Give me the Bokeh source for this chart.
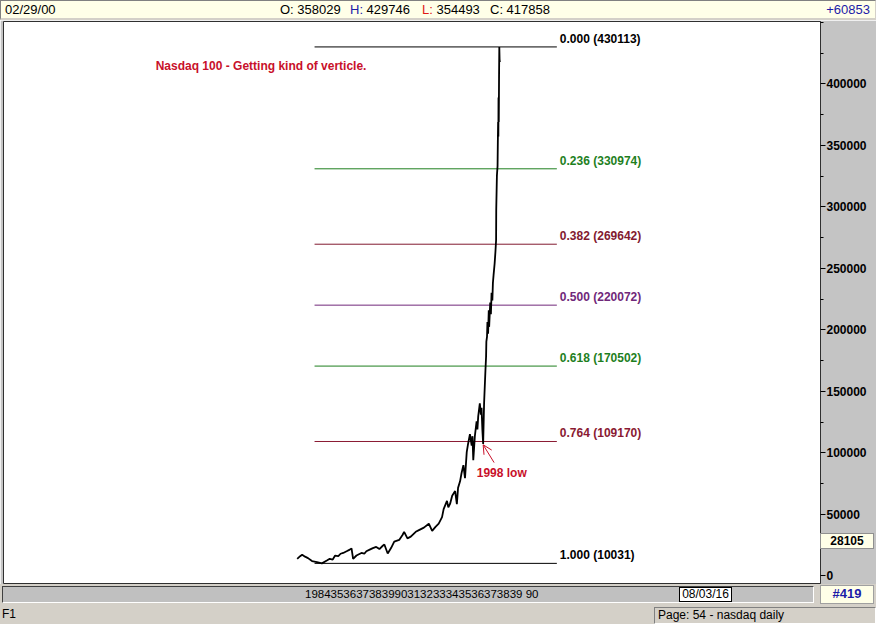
from bokeh.plotting import figure
from bokeh.models import Range1d, FixedTicker, BasicTickFormatter, Label, Arrow, OpenHead, Div, ColumnDataSource
from bokeh.layouts import column
from bokeh.core.properties import value
from bokeh.embed import file_html
from bokeh.resources import INLINE

# ---------------- data ----------------
years = [1985.00, 1985.22, 1985.37, 1985.59, 1985.81, 1986.11, 1986.48, 1986.85, 1987.22, 1987.44,
         1987.66, 1987.83, 1988.08, 1988.25, 1988.45, 1988.70, 1988.94, 1989.07, 1989.19, 1989.44,
         1989.81, 1990.03, 1990.18, 1990.47, 1990.67, 1990.92, 1991.16, 1991.41, 1991.53, 1991.78,
         1992.03, 1992.27, 1992.64, 1992.89, 1993.01, 1993.26, 1993.51, 1993.88, 1994.12, 1994.49,
         1994.86, 1995.11, 1995.36, 1995.60, 1995.85, 1995.97, 1996.22, 1996.32, 1996.46, 1996.61,
         1996.83, 1996.96, 1997.05, 1997.20, 1997.31, 1997.45, 1997.57, 1997.70, 1997.80, 1997.94,
         1998.07, 1998.13, 1998.19, 1998.31, 1998.44, 1998.50, 1998.56, 1998.68, 1998.76, 1998.81,
         1998.87, 1998.93, 1999.00, 1999.10, 1999.15, 1999.17, 1999.22, 1999.25, 1999.30, 1999.35,
         1999.38, 1999.46, 1999.51, 1999.56, 1999.62, 1999.66, 1999.71, 1999.79, 1999.85, 1999.90,
         1999.91, 1999.96, 2000.01, 2000.03, 2000.05, 2000.07, 2000.08, 2000.10, 2000.12, 2000.14,
         2000.16, 2000.18]
prices = [13730, 15873, 17063, 15476, 14286, 11905, 11111, 10031, 12302, 13730,
          13095, 16270, 15873, 17857, 18492, 19841, 21190, 22222, 13730, 16429,
          18492, 17857, 19841, 21429, 22460, 23413, 21667, 24365, 25397, 18016,
          22460, 27778, 29127, 33095, 35714, 30397, 31746, 35714, 37063, 39127,
          42302, 36508, 39683, 42302, 47619, 54206, 60873, 55556, 58730, 65079,
          68810, 58175, 71429, 76746, 83333, 89921, 79365, 100556, 107143, 115079,
          105794, 113492, 93889, 113730, 125635, 119048, 129603, 140238, 130952, 136508,
          119048, 107143, 140238, 166667, 178571, 190476, 194444, 206349, 196825, 215873,
          202381, 222222, 212698, 230159, 223810, 238095, 244444, 253968, 263492, 273016,
          297619, 325397, 333333, 353175, 369048, 357143, 388889, 369048, 404762, 430113,
          420000, 417858]

fib_levels = [0.000, 0.236, 0.382, 0.500, 0.618, 0.764, 1.000]
fib_values = [430113, 330974, 269642, 220072, 170502, 109170, 10031]
fib_colors = ["#000000", "#1E7F1E", "#821A30", "#70287A", "#1E7F1E", "#8A1A32", "#000000"]
fib_start = 1986.3
fib_end = 2004.45

y_ticks = [0, 50000, 100000, 150000, 200000, 250000, 300000, 350000, 400000]
y_minor = [25000, 75000, 125000, 175000, 225000, 275000, 325000, 375000, 425000, 450000]

date_str = "02/29/00"
ohlc_names = ["O:", "H:", "L:", "C:"]
ohlc_values = [358029, 429746, 354493, 417858]
change_str = "+60853"
cursor_value = 28105
scroll_years = "1984353637383990313233343536373839 90"
scroll_date = "08/03/16"
bar_count = "#419"
page_str = "Page: 54 - nasdaq daily"
note = "Nasdaq 100 - Getting kind of verticle."
low_note = "1998 low"
low_point = (1998.93, 106500)

FONT = "Liberation Sans"
HFONT = "'Liberation Sans',Arial,sans-serif"
W = 876
H_MAIN = 564
Y0, Y1 = -6350, 450800
RED = "#C8102A"
BLUE = "#1C1CA8"
CREAM = "#FFFFE8"

# ---------------- top bar ----------------
ohlc_lefts = [279, 349, 421, 489]
ohlc_name_colors = ["#000000", BLUE, "#E01818", "#000000"]
spans = [f'<span style="position:absolute;left:4px;top:1px">{date_str}</span>']
for nm, v, lx, c in zip(ohlc_names, ohlc_values, ohlc_lefts, ohlc_name_colors):
    spans.append(f'<span style="position:absolute;left:{lx}px;top:1px"><span style="color:{c}">{nm}</span> {v}</span>')
spans.append(f'<span style="position:absolute;right:5px;top:1px;color:{BLUE}">{change_str}</span>')
top_html = (f'<div style="position:relative;box-sizing:border-box;width:{W}px;height:20px;background:{CREAM};'
            f'border-top:1px solid #808080;border-left:1px solid #808080;border-bottom:2px solid #D4D0C8;'
            f'border-right:1px solid #D4D0C8;font:13px {HFONT};color:#000;line-height:16px;white-space:nowrap">'
            + "".join(spans) + '</div>')
top = Div(text=top_html, width=W, height=20, margin=(0, 0, 0, 0))

# ---------------- main chart ----------------
p = figure(width=W, height=H_MAIN, x_range=Range1d(1963.0, 2024.2), y_range=Range1d(Y0, Y1),
           x_axis_location=None, y_axis_location="right", output_backend="svg", toolbar_location=None,
           min_border_left=3, min_border_right=56, min_border_top=1, min_border_bottom=1,
           background_fill_color="white", border_fill_color="#C4C4C4", outline_line_color="#303030")
p.grid.visible = False
ax = p.yaxis[0]
ax.ticker = FixedTicker(ticks=y_ticks, minor_ticks=y_minor)
ax.formatter = BasicTickFormatter(use_scientific=False)
ax.major_label_text_font = FONT
ax.major_label_text_font_style = "bold"
ax.major_label_text_font_size = "12px"
ax.major_label_text_color = "#000000"
ax.major_label_standoff = 1
ax.major_tick_out = 5
ax.major_tick_in = 0
ax.minor_tick_out = 3
ax.minor_tick_in = 0
ax.major_tick_line_color = "#000000"
ax.minor_tick_line_color = "#000000"
ax.axis_line_color = "#303030"
ax.axis_line_dash = "1 2"

fsrc = ColumnDataSource(dict(x0=[fib_start] * len(fib_values), x1=[fib_end] * len(fib_values),
                             y=fib_values, c=fib_colors,
                             t=[f"{l:.3f} ({v})" for l, v in zip(fib_levels, fib_values)]))
p.segment(x0="x0", y0="y", x1="x1", y1="y", color="c", line_width=1, source=fsrc)
p.text(x="x1", y="y", text="t", text_color="c", x_offset=3, y_offset=-1, text_baseline="bottom",
       text_font=value(FONT), text_font_style="bold", text_font_size="12px", source=fsrc)

p.line(years, prices, color="#000000", line_width=1.8)

p.add_layout(Label(x=1974.4, y=415000, text=note, text_color=RED, text_font=FONT,
                   text_font_style="bold", text_font_size="12px", text_baseline="middle"))
p.add_layout(Label(x=1998.45, y=83500, text=low_note, text_color=RED, text_font=FONT,
                   text_font_style="bold", text_font_size="12px", text_baseline="middle"))
p.add_layout(Arrow(end=OpenHead(size=9, line_color=RED, line_width=1), x_start=1999.75, y_start=92000,
                   x_end=low_point[0], y_end=low_point[1], line_color=RED, line_width=1))

# ---------------- bottom rows ----------------
frame_h = H_MAIN - 2
cursor_px = 1 + (cursor_value - Y0) / (Y1 - Y0) * frame_h   # px above the figure's bottom edge
box_top = -round(cursor_px + 8)
scroll_html = (f'<div style="position:relative;width:{W}px;height:22px;background:#D4D0C8;font:11.5px {HFONT};'
               f'white-space:nowrap;line-height:14px">'
               f'<div style="position:absolute;left:820px;top:{box_top}px;width:54px;height:16px;box-sizing:border-box;'
               f'background:{CREAM};border:1px solid #909090;text-align:center;font:bold 12px {HFONT};line-height:14px">'
               f'{cursor_value}</div>'
               f'<div style="position:absolute;left:2px;top:2px;width:812px;height:17px;box-sizing:border-box;'
               f'background:#C0C0C0;border:1px solid;border-color:#404040 #FFFFFF #FFFFFF #404040">'
               f'<span style="position:absolute;left:302px;top:0px">{scroll_years}</span>'
               f'<span style="position:absolute;left:676px;top:0px;width:53px;height:15px;box-sizing:border-box;'
               f'background:#FFFFFF;border:1px solid #000;line-height:13px;text-align:center;font-size:12px">{scroll_date}</span>'
               f'</div>'
               f'<div style="position:absolute;left:820px;top:1px;width:54px;height:19px;box-sizing:border-box;'
               f'background:{CREAM};border:1px solid #A0A0A0;color:{BLUE};text-align:center;line-height:17px;'
               f'font:bold 13px {HFONT}">{bar_count}</div></div>')
scroll = Div(text=scroll_html, width=W, height=22, margin=(0, 0, 0, 0))

status_html = (f'<div style="position:relative;width:{W}px;height:18px;background:#D4D0C8;font:12px {HFONT};'
               f'white-space:nowrap;line-height:15px">'
               f'<span style="position:absolute;left:2px;top:1px">F1</span>'
               f'<div style="position:absolute;left:654px;top:1px;width:222px;height:17px;box-sizing:border-box;'
               f'border:1px solid;border-color:#808080 #FFFFFF #FFFFFF #808080;padding-left:3px">{page_str}</div>'
               f'</div>')
status = Div(text=status_html, width=W, height=18, margin=(0, 0, 0, 0))

layout = column(top, p, scroll, status, spacing=0)
open("out.html", "w").write(file_html(layout, INLINE))
